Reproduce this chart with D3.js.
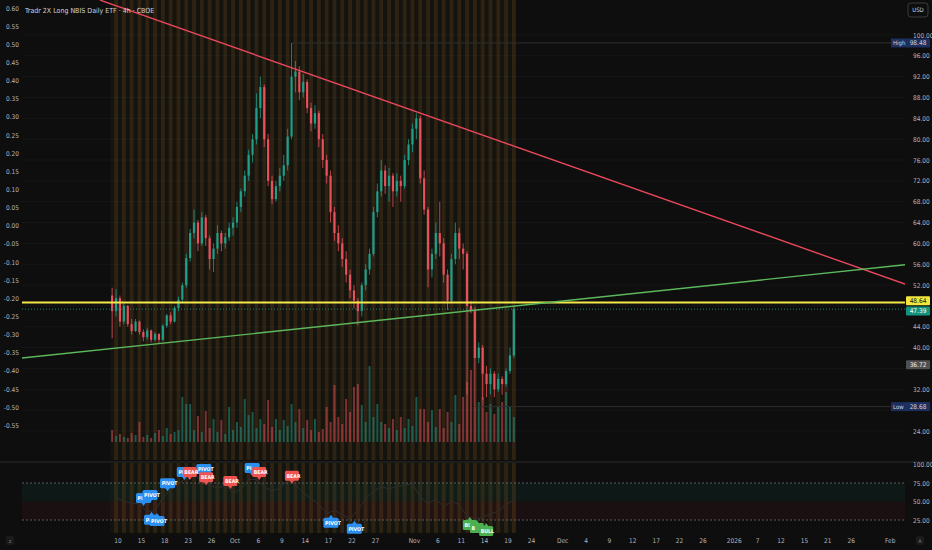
<!DOCTYPE html>
<html><head><meta charset="utf-8">
<script src="https://cdn.jsdelivr.net/npm/d3@7"></script>
<style>
html,body{margin:0;padding:0;background:#0e0e0e;overflow:hidden;}
svg{display:block;}
text{font-family:"Liberation Sans Narrow","DejaVu Sans Condensed","Roboto Condensed","Liberation Sans",sans-serif;}
</style></head><body>
<svg id="c" width="932" height="550"></svg>
<script>
const title = "Tradr 2X Long NBIS Daily ETF · 4h · CBOE";
// [open, high, low, close] per 4h bar (two per trading day), Sep 9 -> Nov 20
const candles = [
[50,51.5,41.8,47],[47,51.2,46,49.5],[49.5,50,44,45],[45,48.5,44.5,48],[48,48.2,44,44.5],
[44.5,45.5,42.5,43.2],[43.2,45.5,43,45],[45,45.2,42.5,43],[43,43.5,41.2,42],[42,43.8,41.5,43.3],
[43.3,43.5,41,41.5],[41.5,43,41.2,42.6],[42.6,42.8,40.9,41.5],[41.5,44.5,41.3,44.2],[44.2,46.5,43.8,46.2],
[46.2,46.8,44.5,45],[45,48,44.8,47.6],[47.6,49.8,47,49.2],[49.2,52.5,48.5,52],[52,58,51.5,57.2],
[57.2,62.8,56.5,62],[62,66.5,61,64],[64,64.5,58.5,60],[60,66,59.5,65],[65,65.5,59.5,61],
[61,61.5,55,57],[57,60,54.5,59],[59,63.5,58,62],[62,62.5,58.5,60],[60,62,59,61.2],
[61.2,64,60.5,63],[63,65,61.5,64],[64,68,63,67],[67,70.5,66,70],[70,74,69,73],
[73,78,72,77],[77,81,75.5,80],[80,88.8,79,86],[86,92,84,90],[90,90.5,78.5,80],
[80,81,71,72],[72,73,67.5,68.5],[68.5,72,68,71],[71,74.5,70,73],[73,77,72,75],
[75,82,74,80.5],[80.5,98.48,80,92],[92,95,89,93],[93,94,87.5,89],[89,92.5,88,91],
[91,91.5,85,86],[86,87,81.5,83],[83,86.5,82,85],[85,85.5,78.5,80],[80,81,74.5,76],
[76,77,71.5,73],[73,74,64,66],[66,67,60.5,62],[62,63.5,58.5,60],[60,61,55.5,57],
[57,58.5,52.5,54],[54,55,49.5,51],[51,52,47.5,49],[49,49.5,44.3,47],[47,52.5,46,52],
[52,56,51,55],[55,59,54,58],[58,67,57.5,66],[66,71.5,65,70],[70,76,69,74],
[74,75,69.5,71],[71,74.5,68,73],[73,73.5,67,70],[70,73.5,69,72],[72,73,68,71],
[71,77,70.5,76],[76,80,75,79],[79,83,77.5,82],[82,85,80,84],[84,84.5,71.5,72.5],
[72.5,74,65.5,66.5],[66.5,67,51.6,55],[55,59,53.5,58],[58,64,57,62],[62,68,57.5,60],
[60,61,52.5,54],[54,55,47.2,49],[49,58,48.5,57],[57,64,56,62],[62,63,57,59],
[59,60,55,58],[58,58.5,31,48],[48,49,46.6,47],[47,47.8,28.68,38],[38,41,37,40],
[40,40.5,30,35],[35,36.5,30.5,33],[33,36,31,35],[35,35.5,30.5,32],[32,35,31.5,34],
[34,34.5,31,33],[33,36,32.5,35.5],[35.5,40,35,38.5],[38.5,48,38,47.39]
];
const volumes = [
12,6,8,5,4,9,7,20,5,7, 4,9,12,6,14,8,10,12,45,38,
38,12,26,10,31,14,23,10,22,8, 35,12,20,15,43,27,30,14,23,18,
42,15,23,12,22,16,38,20,33,14, 22,12,23,10,13,35,20,57,25,18,
43,30,55,58,37,20,76,25,38,20, 18,14,23,12,25,14,23,16,45,33,
33,20,32,15,33,14,30,20,47,18, 45,60,72,35,40,45,30,38,28,35,
40,50,35,25
];
// oscillator, one value per trading day
const rsi = [55,50,48,47,36,38,55,66,74,82, 86,78,72,68,72,62,66,80,80,70,
64,68,78,72,62,54,46,34,38,32, 27,38,54,64,70,67,70,72,74,56,
47,53,43,50,46,30,26,29,33,37, 46,52];
const priceTicks = [24,28,32,36,40,44,48,52,56,60,64,68,72,76,80,84,88,92,96,100];
const leftTicks = [0.60,0.55,0.50,0.45,0.40,0.35,0.30,0.25,0.20,0.15,0.10,0.05,0.00,-0.05,-0.10,-0.15,-0.20,-0.25,-0.30,-0.35,-0.40,-0.45,-0.50,-0.55];
const rsiTicks = [100,75,50,25];
const dateTicks = [["10",0],["15",3],["18",6],["23",9],["26",12],["Oct",15],["6",18],["9",21],["14",24],["17",27],["22",30],["27",33],["Nov",38],["6",41],["11",44],["14",47],["19",50],["24",53],["Dec",57],["4",60],["9",63],["12",66],["17",69],["22",72],["26",75],["2026",79],["7",82],["12",85],["15",88],["21",91],["26",94],["Feb",99]];
const redTrend = [[-2.3,106.7],[100.9,52.2]];
const greenTrend = [[-12.3,38.0],[100.9,55.9]];
const levelLine = 48.64, lastPrice = 47.39, maValue = 36.72, highValue = 98.48, lowValue = 28.68;
// [day, oscillator value at tip, visible text, kind, direction]
const signals = [
[3.27,44,"PI","pivot","down"],[4.1,48,"PIVOT","pivot","down"],
[4.3,36,"PI","pivot","up"],[5.0,34.5,"PIVOT","pivot","up"],
[6.35,64,"PIVOT","pivot","down"],
[8.5,79,"PI","pivot","down"],[11.0,83,"PIVOT","pivot","down"],
[9.2,79,"BEAR","bear","down"],[11.3,72,"BEAR","bear","down"],
[14.4,67,"BEAR","bear","down"],
[17.2,84.5,"PI","pivot","down"],[18.1,79,"BEAR","bear","down"],
[22.3,74,"BEAR","bear","down"],
[27.3,32,"PIVOT","pivot","up"],[30.3,24,"PIVOT","pivot","up"],
[45.1,29,"BU","bull","up"],[46.0,25,"B","bull","up"],[47.2,21,"BULL","bull","up"]
];

const svg = d3.select("#c");
const W = 932, H = 550;
const plotL = 22, plotR = 905, mainB = 460, subT = 463, subB = 533;
const upC = "#1f9e89", dnC = "#e8505b";
const axisC = "#b2b5be";

const xDay = d3.scaleLinear().domain([0, 99]).range([118, 890.2]);
const barDay = i => i / 2 - 0.75;
const y = d3.scaleLinear().domain([24, 100]).range([431, 35]);
const yL = d3.scaleLinear().domain([-0.55, 0.50]).range([425.3, 44.3]);
const yV = d3.scaleLinear().domain([0, 100]).range([442, 342]);
const yR = d3.scaleLinear().domain([25, 75]).range([520, 483]);

svg.append("rect").attr("width", W).attr("height", H).attr("fill", "#0e0e0e");
const defs = svg.append("defs");
defs.append("clipPath").attr("id", "mainClip").append("rect").attr("x", plotL).attr("y", 0).attr("width", plotR - plotL).attr("height", mainB);
defs.append("clipPath").attr("id", "subClip").append("rect").attr("x", plotL).attr("y", subT).attr("width", plotR - plotL).attr("height", subB - subT);

// background session stripes
const barW = xDay(0.5) - xDay(0);
[[0, mainB], [subT, subB]].forEach(([t, b]) => {
  svg.append("g").selectAll("rect").data(candles).join("rect")
    .attr("x", (d, i) => xDay(barDay(i)) - barW / 2)
    .attr("width", barW)
    .attr("y", t).attr("height", b - t)
    .attr("fill", (d, i) => i % 2 ? "rgba(205,135,45,0.17)" : "rgba(110,120,40,0.05)");
});

// grid
const main = svg.append("g").attr("clip-path", "url(#mainClip)");
main.append("g").selectAll("line").data(priceTicks).join("line")
  .attr("x1", plotL).attr("x2", plotR).attr("y1", d => y(d)).attr("y2", d => y(d))
  .attr("stroke", "rgba(255,255,255,0.035)");

// volume
main.append("g").selectAll("rect").data(volumes).join("rect")
  .attr("x", (d, i) => xDay(barDay(i)) - 1)
  .attr("width", 2)
  .attr("y", d => yV(d)).attr("height", d => yV(0) - yV(d))
  .attr("fill", (d, i) => candles[i][3] >= candles[i][0] ? "rgba(31,158,137,0.5)" : "rgba(232,80,91,0.5)");

// high / low reference lines
const hiIdx = candles.findIndex(c => c[1] === highValue);
const loIdx = candles.findIndex(c => c[2] === lowValue);
main.append("line").attr("x1", xDay(barDay(hiIdx))).attr("x2", plotR).attr("y1", y(highValue)).attr("y2", y(highValue)).attr("stroke", "#2f2f2f");
main.append("line").attr("x1", xDay(barDay(loIdx))).attr("x2", plotR).attr("y1", y(lowValue)).attr("y2", y(lowValue)).attr("stroke", "#2f2f2f");

// candles
const cg = main.append("g");
candles.forEach((c, i) => {
  const [o, h, l, cl] = c;
  const col = cl >= o ? upC : dnC;
  const cx = xDay(barDay(i));
  cg.append("line").attr("x1", cx).attr("x2", cx).attr("y1", y(h)).attr("y2", y(l)).attr("stroke", col).attr("stroke-width", 0.8);
  const top = y(Math.max(o, cl)), bot = y(Math.min(o, cl));
  cg.append("rect").attr("x", cx - 1.1).attr("width", 2.2).attr("y", top).attr("height", Math.max(0.8, bot - top)).attr("fill", col);
});

// last price dotted line
main.append("line").attr("x1", plotL).attr("x2", plotR).attr("y1", y(lastPrice)).attr("y2", y(lastPrice))
  .attr("stroke", upC).attr("stroke-dasharray", "1,2").attr("stroke-width", 0.8);

// horizontal level
main.append("line").attr("x1", plotL).attr("x2", plotR).attr("y1", y(levelLine)).attr("y2", y(levelLine))
  .attr("stroke", "#f5e94a").attr("stroke-width", 2);

// trend lines
function trend(pts, col) {
  main.append("line")
    .attr("x1", xDay(pts[0][0])).attr("y1", y(pts[0][1]))
    .attr("x2", xDay(pts[1][0])).attr("y2", y(pts[1][1]))
    .attr("stroke", col).attr("stroke-width", 1.4);
}
trend(redTrend, "#e8485a");
trend(greenTrend, "#5cb85c");

// title
svg.append("text").attr("x", 25).attr("y", 12.5).attr("fill", "#d1d4dc").attr("font-size", 7).text(title);

// left axis
svg.append("g").selectAll("text").data(leftTicks).join("text")
  .attr("x", 19).attr("y", d => yL(d) + 2.5).attr("text-anchor", "end")
  .attr("fill", axisC).attr("font-size", 6.5).text(d => d.toFixed(2));

// right axis badges
const badges = [
  {v: highValue, txt: highValue.toFixed(2), pre: "High", bg: "#1c2f5e", fg: "#d1d4dc"},
  {v: levelLine, txt: levelLine.toFixed(2), bg: "#f2e63c", fg: "#111"},
  {v: lastPrice, txt: lastPrice.toFixed(2), bg: "#16937f", fg: "#fff"},
  {v: maValue, txt: maValue.toFixed(2), bg: "#505050", fg: "#eee"},
  {v: lowValue, txt: lowValue.toFixed(2), pre: "Low", bg: "#1c2f5e", fg: "#d1d4dc"}
];
badges.forEach(b => b.cy = y(b.v));
badges.sort((a, b) => a.cy - b.cy);
for (let k = 1; k < badges.length; k++) {
  const gap = badges[k].cy - badges[k - 1].cy;
  if (gap < 10) { const m = (badges[k].cy + badges[k - 1].cy) / 2; badges[k - 1].cy = m - 5.2; badges[k].cy = m + 5.2; }
}
svg.append("g").selectAll("text").data(priceTicks.filter(t => badges.every(b => Math.abs(y(t) - b.cy) > 7))).join("text")
  .attr("x", 913).attr("y", d => y(d) + 2.5)
  .attr("fill", axisC).attr("font-size", 6.5).text(d => d.toFixed(2));
badges.forEach(b => {
  const g = svg.append("g");
  if (b.pre) {
    g.append("rect").attr("x", 891).attr("y", b.cy - 4.5).attr("width", 16).attr("height", 9).attr("fill", b.bg);
    g.append("text").attr("x", 893).attr("y", b.cy + 2.3).attr("fill", b.fg).attr("font-size", 6).text(b.pre);
  }
  g.append("rect").attr("x", 906).attr("y", b.cy - 4.5).attr("width", 24).attr("height", 9).attr("rx", 1).attr("fill", b.bg);
  g.append("text").attr("x", 918).attr("y", b.cy + 2.4).attr("text-anchor", "middle").attr("fill", b.fg).attr("font-size", 6.5).text(b.txt);
});

// USD box
svg.append("rect").attr("x", 908).attr("y", 3).attr("width", 20).attr("height", 14).attr("rx", 3).attr("fill", "none").attr("stroke", "#3a3a3a");
svg.append("text").attr("x", 918).attr("y", 12.3).attr("text-anchor", "middle").attr("fill", "#d1d4dc").attr("font-size", 6).text("USD");

// pane separator
svg.append("line").attr("x1", 0).attr("x2", W).attr("y1", 462).attr("y2", 462).attr("stroke", "#2a2a2a");

// sub pane
const sub = svg.append("g").attr("clip-path", "url(#subClip)");
sub.append("rect").attr("x", plotL).attr("width", plotR - plotL).attr("y", yR(75)).attr("height", yR(50) - yR(75)).attr("fill", "rgba(8,153,129,0.07)");
sub.append("rect").attr("x", plotL).attr("width", plotR - plotL).attr("y", yR(50)).attr("height", yR(25) - yR(50)).attr("fill", "rgba(242,54,69,0.06)");
[75, 25].forEach(v => sub.append("line").attr("x1", plotL).attr("x2", plotR).attr("y1", yR(v)).attr("y2", yR(v))
  .attr("stroke", "#6b6e76").attr("stroke-dasharray", "2,2").attr("stroke-width", 0.8));
sub.append("path").datum(rsi)
  .attr("d", d3.line().x((d, k) => xDay(k - 0.25)).y(d => yR(d)))
  .attr("fill", "none").attr("stroke", "#2e2e2e").attr("stroke-width", 1);

svg.append("g").selectAll("text").data(rsiTicks).join("text")
  .attr("x", 913).attr("y", d => yR(d) + 2.5)
  .attr("fill", axisC).attr("font-size", 6.5).text(d => d.toFixed(2));

// signal labels (drawn in order, later ones cover earlier ones)
const kindCol = {pivot: "#2a8ff0", bear: "#ef5350", bull: "#4caf50"};
const sg = svg.append("g");
signals.forEach(([d, v, txt, kind, dir]) => {
  const tx = xDay(d), ty = yR(v);
  const w = kind === "pivot" ? 15 : 14, h = 10;
  const col = kindCol[kind];
  const by = dir === "down" ? ty - 3 - h : ty + 3;
  const g = sg.append("g");
  if (dir === "down") {
    g.append("path").attr("d", `M${tx - 2.5},${ty - 3.5} L${tx + 2.5},${ty - 3.5} L${tx},${ty} Z`).attr("fill", col);
  } else {
    g.append("path").attr("d", `M${tx - 2.5},${ty + 3.5} L${tx + 2.5},${ty + 3.5} L${tx},${ty} Z`).attr("fill", col);
  }
  g.append("rect").attr("x", tx - w / 2).attr("y", by).attr("width", w).attr("height", h).attr("rx", 1.5).attr("fill", col);
  g.append("text").attr("x", tx - w / 2 + 1.6).attr("y", by + 7).attr("fill", "#fff")
    .attr("font-size", 5.2).attr("font-weight", "bold").text(txt);
});

// x axis
svg.append("g").selectAll("text").data(dateTicks).join("text")
  .attr("x", d => xDay(d[1])).attr("y", 543).attr("text-anchor", "middle")
  .attr("fill", axisC).attr("font-size", 6.5).text(d => d[0]);

// corner icons
svg.append("rect").attr("x", 6).attr("y", 536).attr("width", 8).attr("height", 9).attr("rx", 2).attr("fill", "#1a1a1a");
svg.append("text").attr("x", 10).attr("y", 543).attr("text-anchor", "middle").attr("fill", "#777").attr("font-size", 5.5).text("z");
svg.append("rect").attr("x", 916).attr("y", 536).attr("width", 8).attr("height", 9).attr("rx", 2).attr("fill", "#1a1a1a");
svg.append("text").attr("x", 920).attr("y", 543).attr("text-anchor", "middle").attr("fill", "#777").attr("font-size", 5.5).text("A");
</script>
</body></html>
